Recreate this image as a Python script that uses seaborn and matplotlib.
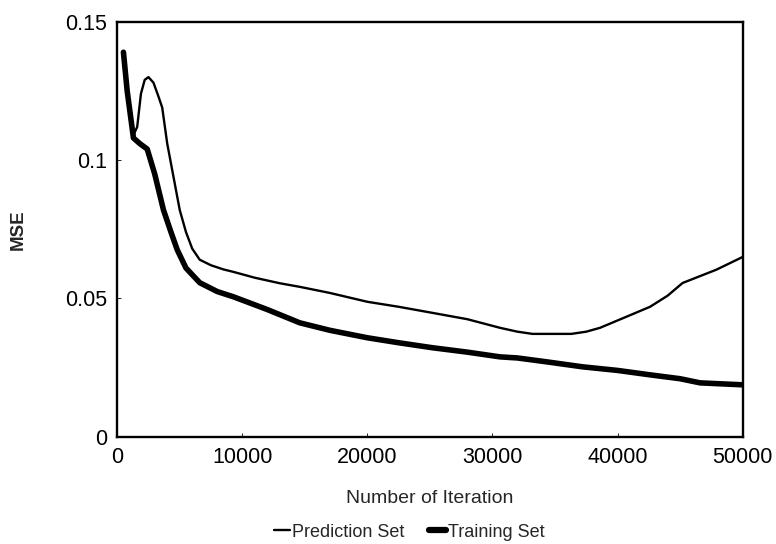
import numpy as np
import pandas as pd
import matplotlib
matplotlib.use("Agg")
import matplotlib.pyplot as plt
import seaborn as sns
from matplotlib.ticker import FuncFormatter
from matplotlib.lines import Line2D

## Data
pred_iter = [500, 1000, 1300, 1600, 1900, 2200, 2500, 2900, 3300, 3600, 4000, 4500,
             5000, 5500, 6000, 6600, 7500, 8500, 9300, 11000, 13000, 14600, 17000,
             20000, 22500, 25200, 28000, 30600, 32000, 33200, 35000, 36300, 37500,
             38600, 40500, 42600, 44000, 45200, 47900, 50000]
pred_mse = [0.139, 0.118, 0.109, 0.112, 0.124, 0.129, 0.130, 0.128, 0.123, 0.119,
            0.106, 0.094, 0.082, 0.074, 0.068, 0.064, 0.062, 0.0605, 0.0596, 0.0575,
            0.0555, 0.0542, 0.052, 0.0488, 0.047, 0.0448, 0.0425, 0.0394, 0.038,
            0.0372, 0.0372, 0.0372, 0.038, 0.0394, 0.043, 0.047, 0.051, 0.0556,
            0.0604, 0.065]

train_iter = [500, 800, 1300, 1800, 2400, 3000, 3700, 4300, 4800, 5500, 6600, 8000,
              9300, 12000, 14600, 17000, 20000, 22500, 25200, 28000, 30600, 32000,
              34500, 37200, 40000, 42600, 45000, 46600, 50000]
train_mse = [0.139, 0.125, 0.108, 0.106, 0.104, 0.095, 0.082, 0.074, 0.0676, 0.061,
             0.0557, 0.0525, 0.0506, 0.046, 0.0412, 0.0385, 0.0358, 0.034, 0.0322,
             0.0306, 0.0289, 0.0285, 0.027, 0.0253, 0.024, 0.0224, 0.021, 0.0195,
             0.0188]

x_ticks = [0, 10000, 20000, 30000, 40000, 50000]
y_ticks = [0, 0.05, 0.1, 0.15]

sns.set_style("ticks")
plt.rcParams['font.family'] = ['Liberation Sans', 'DejaVu Sans']

fig = plt.figure(figsize=(7.76, 5.44), dpi=100)
ax = fig.add_axes([0.151, 0.197, 0.806, 0.763])

pred = pd.DataFrame({"iter": pred_iter, "mse": pred_mse})
train = pd.DataFrame({"iter": train_iter, "mse": train_mse})

sns.lineplot(data=pred, x="iter", y="mse", color="black", linewidth=1.7, ax=ax)
sns.lineplot(data=train, x="iter", y="mse", color="black", linewidth=4.0, ax=ax)

ax.set_xlim(0, 50000)
ax.set_ylim(0, 0.15)
ax.set_xticks(x_ticks)
ax.set_yticks(y_ticks)
ax.yaxis.set_major_formatter(FuncFormatter(lambda v, p: f"{v:g}"))
ax.tick_params(axis="both", direction="in", length=3, width=0.6, labelsize=15.5, colors="black")
ax.tick_params(axis="x", pad=7)
ax.tick_params(axis="y", pad=7)

for s in ax.spines.values():
    s.set_visible(True)
    s.set_color("black")
    s.set_linewidth(1.7)

ax.set_xlabel("Number of Iteration", fontsize=14, labelpad=16)
ax.set_ylabel("MSE", fontsize=13.5, fontweight="bold", labelpad=28)

handles = [Line2D([0], [0], color="black", lw=1.7),
           Line2D([0], [0], color="black", lw=4.5)]
fig.legend(handles, ["Prediction Set", "Training Set"], loc="center",
           bbox_to_anchor=(0.527, 0.022), ncol=2, frameon=False, fontsize=13,
           handlelength=0.9, handletextpad=0.1, columnspacing=1.4)

fig.savefig("out.png", dpi=100)
